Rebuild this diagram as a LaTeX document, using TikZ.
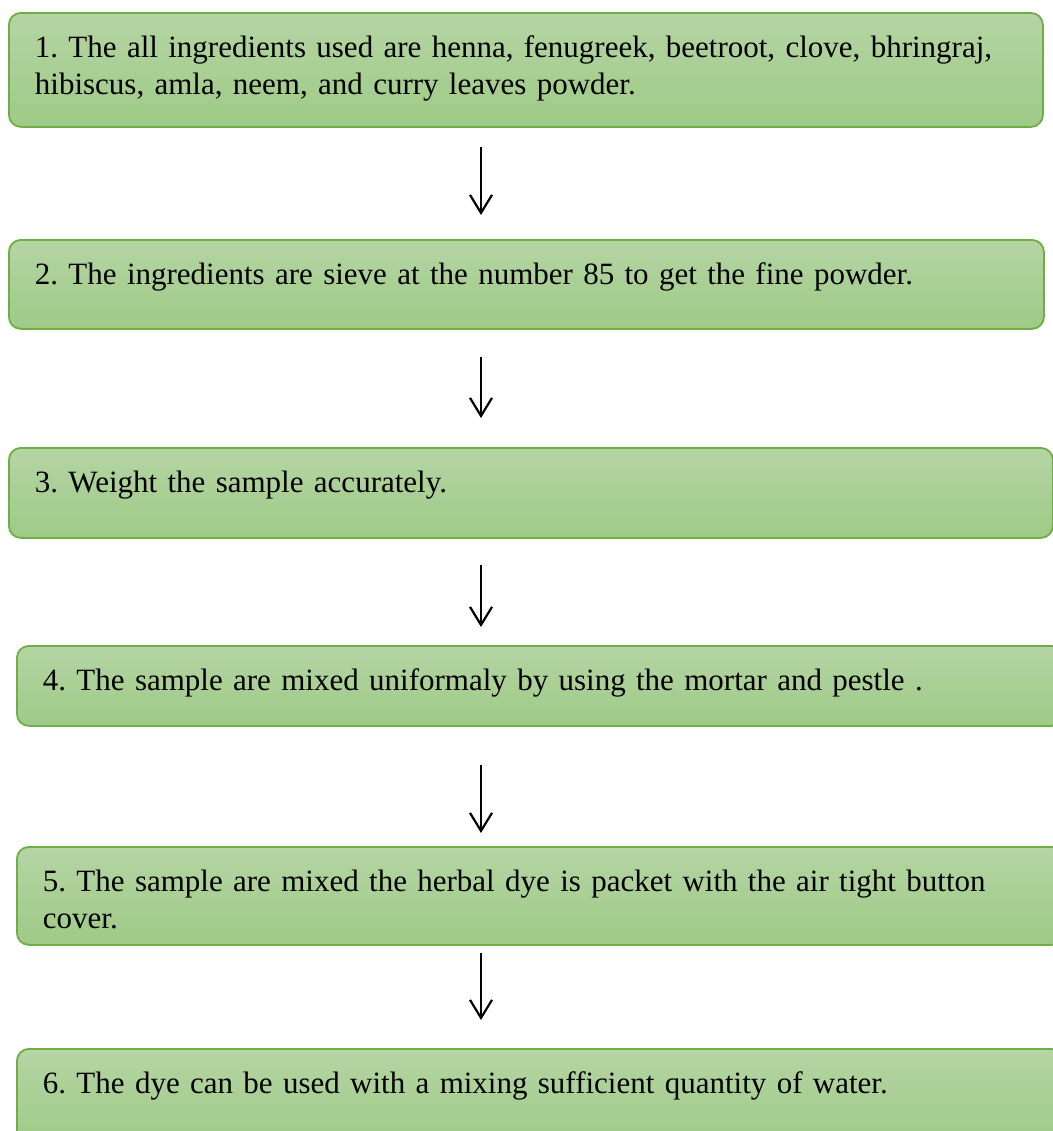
\documentclass[tikz,border=0pt]{standalone}
\usepackage{fontspec}
\setmainfont{Liberation Serif}
\usetikzlibrary{arrows.meta}
\definecolor{vclair}{RGB}{181,213,164}
\definecolor{vfonce}{RGB}{158,202,134}
\definecolor{vbord}{RGB}{112,173,71}

\begin{document}
\frenchspacing
\begin{tikzpicture}[x=0.5pt, y=-0.5pt, >={Straight Barb[length=9pt,width=11pt]}, line width=1.1pt,
  stepbox/.style={draw=vbord, line width=0.9pt, top color=vclair, bottom color=vfonce,
    rounded corners=6pt, anchor=north west, align=left, inner xsep=13pt, inner ysep=12pt,
    text height=10.5pt, text depth=#1, font=\fontsize{15.5}{18.3}\selectfont},
  flow/.style={->, black}]
\useasboundingbox (0,0) rectangle (1053,1131);
% axe des fleches
\coordinate (axis) at (481,0);
% etapes
\node[stepbox=22.5pt, text width=491pt] (b1) at (8,12)
  {1. The all ingredients used are henna, fenugreek, beetroot, clove, bhringraj,\\
   hibiscus, amla, neem, and curry leaves powder.};
\node[stepbox=10pt, text width=491.5pt] (b2) at (8,239)
  {2. The ingredients are sieve at the number 85 to get the fine powder.};
\node[stepbox=10.5pt, text width=496pt] (b3) at (8,447)
  {3. Weight the sample accurately.};
\node[stepbox=5.5pt, text width=497pt] (b4) at (16,645)
  {4. The sample are mixed uniformaly by using the mortar and pestle .};
\node[stepbox=14.5pt, text width=497pt] (b5) at (16,846)
  {5. The sample are mixed the herbal dye is packet with the air tight button\\
   cover.};
\node[stepbox=15.5pt, text width=497pt] (b6) at (16,1048)
  {6. The dye can be used with a mixing sufficient quantity of water.};
% fleches
\draw[flow, shorten <=9.5pt, shorten >=12pt] (b1.south -| axis) -- (b2.north -| axis);
\draw[flow, shorten <=13.5pt, shorten >=14.5pt] (b2.south -| axis) -- (b3.north -| axis);
\draw[flow, shorten <=13pt, shorten >=9pt] (b3.south -| axis) -- (b4.north -| axis);
\draw[flow, shorten <=19pt, shorten >=6.5pt] (b4.south -| axis) -- (b5.north -| axis);
\draw[flow, shorten <=3.5pt, shorten >=14pt] (b5.south -| axis) -- (b6.north -| axis);
\end{tikzpicture}
\end{document}
